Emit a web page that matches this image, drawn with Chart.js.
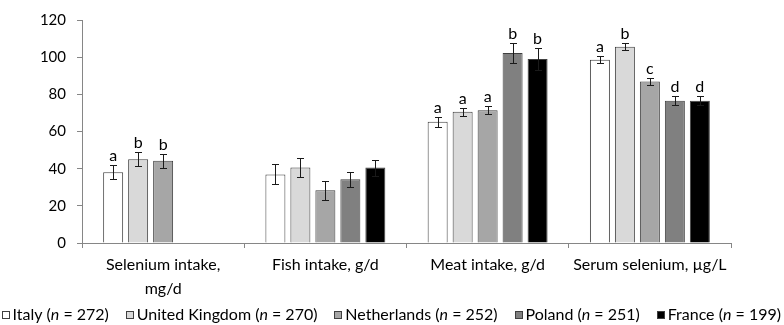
<!DOCTYPE html>
<html>
<head>
<meta charset="utf-8">
<script src="https://cdn.jsdelivr.net/npm/chart.js@4.4.1/dist/chart.umd.min.js"></script>
<style>
  html, body { margin: 0; padding: 0; background: #fff; }
  #wrap { width: 784px; height: 325px; }
</style>
</head>
<body>
<div id="wrap"><canvas id="myChart"></canvas></div>
<script>
// categories / tick labels
const categories = [['Selenium intake,', 'mg/d'], 'Fish intake, g/d', 'Meat intake, g/d', 'Serum selenium, µg/L'];
const yTicks = [0, 20, 40, 60, 80, 100, 120];

// countries + sample sizes
const countries = ['Italy', 'United Kingdom', 'Netherlands', 'Poland', 'France'];
const sampleSizes = [272, 270, 252, 251, 199];

// means
const italy = [38.1, 36.9, 65.2, 98.6];
const unitedKingdom = [45.1, 40.6, 70.6, 105.6];
const netherlands = [44.2, 28.4, 71.4, 86.9];
const poland = [null, 34.3, 102.2, 76.6];
const france = [null, 40.6, 99.0, 76.6];

// error bars (+/-)
const italyErr = [3.8, 5.4, 2.6, 1.9];
const unitedKingdomErr = [3.6, 5.2, 2.3, 1.8];
const netherlandsErr = [3.7, 5.2, 2.2, 1.9];
const polandErr = [null, 3.9, 5.4, 2.5];
const franceErr = [null, 4.3, 6.0, 2.5];

// significance letters
const italyLetters = ['a', '', 'a', 'a'];
const unitedKingdomLetters = ['b', '', 'a', 'b'];
const netherlandsLetters = ['b', '', 'a', 'c'];
const polandLetters = ['', '', 'b', 'd'];
const franceLetters = ['', '', 'b', 'd'];

const fills = ['#ffffff', '#d9d9d9', '#a6a6a6', '#808080', '#000000'];
const FONT = 'Lato';

const series = [italy, unitedKingdom, netherlands, poland, france];
const errs = [italyErr, unitedKingdomErr, netherlandsErr, polandErr, franceErr];
const letters = [italyLetters, unitedKingdomLetters, netherlandsLetters, polandLetters, franceLetters];

const datasets = countries.map(function(c, i) {
  return {
    label: c,
    data: series[i],
    err: errs[i],
    letters: letters[i],
    n: sampleSizes[i],
    backgroundColor: fills[i],
    borderColor: '#3f3f3f',
    borderWidth: 1,
    borderSkipped: 'start',
    barPercentage: 0.8,
    categoryPercentage: 0.77
  };
});

// error bars, letters and the legend (legend needs italic n)
const extras = {
  id: 'extras',
  afterDatasetsDraw(chart) {
    const ctx = chart.ctx;
    const y = chart.scales.y;
    ctx.save();
    chart.data.datasets.forEach(function(ds, di) {
      const meta = chart.getDatasetMeta(di);
      meta.data.forEach(function(bar, i) {
        const v = ds.data[i];
        if (v == null) return;
        const e = ds.err[i];
        const top = Math.round(y.getPixelForValue(v + e)) + 0.5;
        const bot = Math.round(y.getPixelForValue(v - e)) + 0.5;
        const x = Math.round(bar.x) + 0.5;
        ctx.strokeStyle = '#1a1a1a';
        ctx.lineWidth = 1;
        ctx.beginPath();
        ctx.moveTo(x, top); ctx.lineTo(x, bot);
        ctx.moveTo(x - 3.5, top); ctx.lineTo(x + 3.5, top);
        ctx.moveTo(x - 3.5, bot); ctx.lineTo(x + 3.5, bot);
        ctx.stroke();
        const l = ds.letters[i];
        if (l) {
          ctx.fillStyle = '#000';
          ctx.font = '16px ' + FONT;
          ctx.textAlign = 'center';
          ctx.textBaseline = 'alphabetic';
          ctx.fillText(l, bar.x, top - 4.5);
        }
      });
    });
    ctx.restore();
  },
  afterDraw(chart) {
    const ctx = chart.ctx;
    ctx.save();
    const reg = '16px ' + FONT;
    const ita = 'italic 16px ' + FONT;
    const box = 8, boxGap = 3;
    // measure items
    const items = chart.data.datasets.map(function(ds) {
      const parts = [[ds.label + ' (', reg], ['n', ita], [' = ' + ds.n + ')', reg]];
      let w = box + boxGap;
      parts.forEach(function(p) { ctx.font = p[1]; p.push(ctx.measureText(p[0]).width); w += p[2]; });
      return { ds: ds, parts: parts, w: w };
    });
    const left = 1.5, right = 781;
    const total = items.reduce(function(s, it) { return s + it.w; }, 0);
    const gap = (right - left - total) / (items.length - 1);
    const yMid = 315;
    let x = left;
    items.forEach(function(it) {
      ctx.fillStyle = it.ds.backgroundColor;
      ctx.fillRect(Math.round(x), yMid - 4, box, box);
      ctx.strokeStyle = '#3f3f3f';
      ctx.lineWidth = 1;
      ctx.strokeRect(Math.round(x) + 0.5, yMid - 4 + 0.5, box - 1, box - 1);
      let tx = x + box + boxGap;
      ctx.fillStyle = '#000';
      ctx.textAlign = 'left';
      ctx.textBaseline = 'middle';
      it.parts.forEach(function(p) {
        ctx.font = p[1];
        ctx.fillText(p[0], tx, yMid);
        tx += p[2];
      });
      x += it.w + gap;
    });
    ctx.restore();
  }
};

const config = {
  type: 'bar',
  data: { labels: categories, datasets: datasets },
  options: {
    responsive: true,
    maintainAspectRatio: false,
    animation: false,
    layout: { padding: { top: 8, right: 53, left: 0, bottom: 0 } },
    plugins: { legend: { display: false }, tooltip: { enabled: false } },
    scales: {
      x: {
        grid: { offset: true, drawOnChartArea: false, drawTicks: true, tickLength: 5, color: '#868686' },
        border: { color: '#868686', width: 1 },
        ticks: { color: '#000', padding: 5, maxRotation: 0, autoSkip: false, font: { family: FONT, size: 16, lineHeight: 1.5 } },
        afterFit: function(scale) { scale.height = 82; }
      },
      y: {
        min: 0,
        max: 120,
        afterBuildTicks: function(scale) { scale.ticks = yTicks.map(function(v) { return { value: v }; }); },
        grid: { drawOnChartArea: false, drawTicks: true, tickLength: 5, color: '#868686' },
        border: { color: '#868686', width: 1 },
        ticks: { color: '#000', padding: 11, font: { family: FONT, size: 15 } },
        afterFit: function(scale) { scale.width = 82; }
      }
    }
  },
  plugins: [extras]
};

const myChart = new Chart(document.getElementById('myChart'), config);
</script>
</body>
</html>
